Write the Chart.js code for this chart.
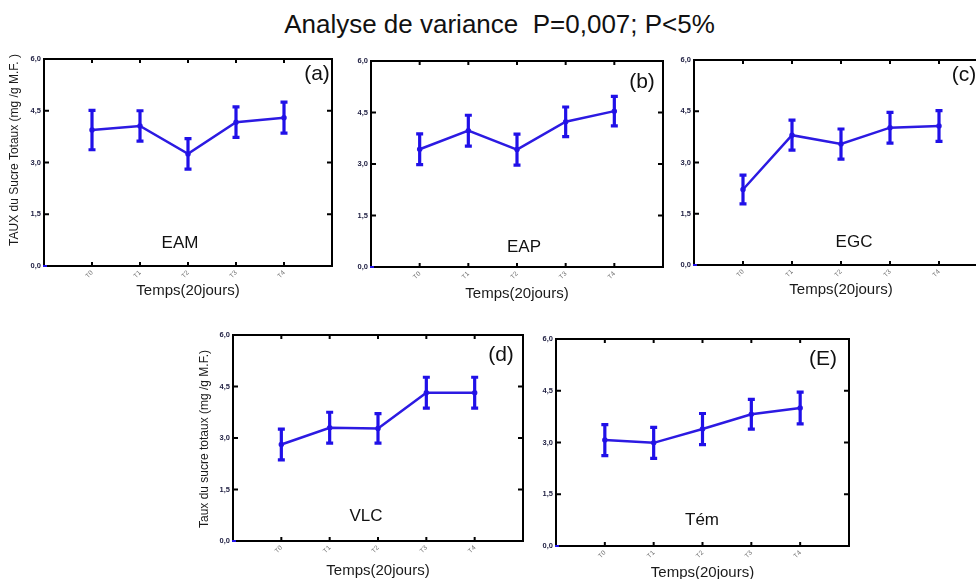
<!DOCTYPE html>
<html>
<head>
<meta charset="utf-8">
<script src="https://cdn.jsdelivr.net/npm/chart.js@4.4.1/dist/chart.umd.min.js"></script>
<style>
  html, body { margin: 0; padding: 0; background: #fff; }
  #page { position: relative; width: 976px; height: 579px; overflow: hidden; background: #fff; }
  #page canvas { position: absolute; }
  #titre {
    position: absolute; left: 0; top: 11px; width: 999px; text-align: center;
    font: 26px/26px "Liberation Sans", Arial, sans-serif; color: #111; white-space: pre;
  }
</style>
</head>
<body>
<div id="page">
  <div id="titre">Analyse de variance  P=0,007; P&lt;5%</div>
</div>
<script>
// --- données ---
const timeLabels = ['T0', 'T1', 'T2', 'T3', 'T4'];
const timeIndex = [0, 1, 2, 3, 4];
const yTicks = [0, 1.5, 3, 4.5, 6];

const eamMean = [3.94, 4.06, 3.25, 4.17, 4.30];
const eamErr  = [0.57, 0.44, 0.44, 0.44, 0.45];

const eapMean = [3.43, 3.97, 3.42, 4.23, 4.54];
const eapErr  = [0.45, 0.45, 0.45, 0.43, 0.43];

const egcMean = [2.21, 3.80, 3.54, 4.02, 4.07];
const egcErr  = [0.42, 0.44, 0.44, 0.45, 0.45];

const vlcMean = [2.81, 3.30, 3.28, 4.32, 4.32];
const vlcErr  = [0.45, 0.45, 0.43, 0.45, 0.45];

const temMean = [3.07, 2.99, 3.39, 3.82, 4.00];
const temErr  = [0.45, 0.45, 0.45, 0.43, 0.46];

const FONT = '"Liberation Sans", Arial, sans-serif';
const LINE_BLUE = '#2c1ae2';
const BAR_BLUE = '#2010e8';
const page = document.getElementById('page');

// cadre, graduations intérieures, barres d'erreur et textes du panneau
const decorPlugin = {
  id: 'decor',
  afterDatasetsDraw(chart, args, o) {
    const { ctx, chartArea: a } = chart;
    const x = chart.scales.x, y = chart.scales.y;
    ctx.save();

    // barres d'erreur
    ctx.strokeStyle = BAR_BLUE;
    ctx.lineWidth = 3.2;
    o.mean.forEach((m, i) => {
      const px = x.getPixelForValue(timeIndex[i]);
      const top = y.getPixelForValue(m + o.err[i]);
      const bot = y.getPixelForValue(m - o.err[i]);
      ctx.beginPath();
      ctx.moveTo(px, top); ctx.lineTo(px, bot);
      ctx.moveTo(px - 3.5, top); ctx.lineTo(px + 3.5, top);
      ctx.moveTo(px - 3.5, bot); ctx.lineTo(px + 3.5, bot);
      ctx.stroke();
    });

    // cadre
    ctx.strokeStyle = '#000';
    ctx.lineWidth = 2;
    ctx.strokeRect(a.left, a.top, a.right - a.left, a.bottom - a.top);
    ctx.beginPath();
    timeIndex.forEach(v => {
      const px = x.getPixelForValue(v);
      ctx.moveTo(px, a.top); ctx.lineTo(px, a.top + 4);
      ctx.moveTo(px, a.bottom); ctx.lineTo(px, a.bottom - 4);
    });
    yTicks.slice(1, -1).forEach(v => {
      const py = y.getPixelForValue(v);
      ctx.moveTo(a.left, py); ctx.lineTo(a.left + 5, py);
      ctx.moveTo(a.right, py); ctx.lineTo(a.right - 5, py);
    });
    ctx.stroke();
    // petit bout bleu au coin 0,0
    ctx.strokeStyle = BAR_BLUE;
    ctx.beginPath();
    ctx.moveTo(a.left - 1, a.bottom); ctx.lineTo(a.left + 3, a.bottom);
    ctx.stroke();

    // textes
    ctx.fillStyle = '#111';
    ctx.textAlign = 'center';
    ctx.textBaseline = 'middle';
    ctx.font = '21px ' + FONT;
    ctx.fillText(o.tag, o.tagX, o.tagY);
    ctx.font = '17px ' + FONT;
    ctx.fillText(o.name, o.nameX, o.nameY);
    if (o.yTitle) {
      ctx.translate(o.yTitleX, o.yTitleY);
      ctx.rotate(-Math.PI / 2);
      ctx.font = '12px ' + FONT;
      ctx.fillStyle = '#1a1a1a';
      ctx.fillText(o.yTitle, 0, 0);
    }
    ctx.restore();
  }
};

function makePanel(p) {
  const [bl, bt, bw, bh] = p.box;
  const [pl, pt, pr, pb] = p.plot;
  const cv = document.createElement('canvas');
  cv.width = bw; cv.height = bh;
  cv.style.left = bl + 'px';
  cv.style.top = bt + 'px';
  page.appendChild(cv);

  const yW = pl - bl;
  const xH = (bt + bh) - pb;
  const titlePadBottom = (bt + bh) - p.xTitleY - 9;

  return new Chart(cv, {
    type: 'line',
    data: {
      datasets: [{
        data: p.mean.map((m, i) => ({ x: timeIndex[i], y: m })),
        borderColor: LINE_BLUE,
        backgroundColor: LINE_BLUE,
        borderWidth: 2.5,
        pointRadius: 1.5,
        tension: 0
      }]
    },
    options: {
      responsive: false,
      animation: false,
      events: [],
      layout: { padding: { left: 0, top: pt - bt, right: (bl + bw) - pr, bottom: 0 } },
      scales: {
        x: {
          type: 'linear', min: -1, max: 5,
          afterBuildTicks: s => { s.ticks = timeIndex.map(v => ({ value: v })); },
          afterFit: s => { s.height = xH; },
          grid: { display: false, drawTicks: false },
          border: { display: false },
          ticks: {
            autoSkip: false, minRotation: 45, maxRotation: 45, padding: 3,
            color: '#6e6e6e', font: { size: 6.5, family: FONT },
            callback: v => timeLabels[v]
          },
          title: {
            display: true, text: 'Temps(20jours)', color: '#1a1a1a',
            font: { size: 15, family: FONT }, padding: { top: 0, bottom: titlePadBottom }
          }
        },
        y: {
          type: 'linear', min: 0, max: 6,
          afterBuildTicks: s => { s.ticks = yTicks.map(v => ({ value: v })); },
          afterFit: s => { s.width = yW; },
          grid: { display: false, drawTicks: false },
          border: { display: false },
          ticks: {
            padding: 3, color: '#1d1d40',
            font: { size: 7.5, weight: 'bold', family: FONT },
            callback: v => v.toFixed(1).replace('.', ',')
          }
        }
      },
      plugins: {
        legend: { display: false },
        tooltip: { enabled: false },
        decor: {
          mean: p.mean, err: p.err,
          tag: p.tag, tagX: p.tagPos[0] - bl, tagY: p.tagPos[1] - bt,
          name: p.name, nameX: p.namePos[0] - bl, nameY: p.namePos[1] - bt,
          yTitle: p.yTitle || null,
          yTitleX: p.yTitle ? p.yTitlePos[0] - bl : 0,
          yTitleY: p.yTitle ? p.yTitlePos[1] - bt : 0
        }
      }
    },
    plugins: [decorPlugin]
  });
}

makePanel({
  box: [0, 40, 340, 265], plot: [44, 59, 332, 266],
  mean: eamMean, err: eamErr,
  tag: '(a)', tagPos: [317, 74], name: 'EAM', namePos: [180, 243], xTitleY: 291,
  yTitle: 'TAUX du Sucre Totaux (mg /g M.F. )', yTitlePos: [15, 150]
});
makePanel({
  box: [340, 40, 330, 265], plot: [371, 61, 663, 267],
  mean: eapMean, err: eapErr,
  tag: '(b)', tagPos: [642, 82], name: 'EAP', namePos: [524, 247], xTitleY: 294
});
makePanel({
  box: [664, 40, 336, 265], plot: [694, 60, 988, 265],
  mean: egcMean, err: egcErr,
  tag: '(c)', tagPos: [964, 75], name: 'EGC', namePos: [854, 242], xTitleY: 290
});
makePanel({
  box: [190, 320, 340, 270], plot: [233, 335, 523, 541],
  mean: vlcMean, err: vlcErr,
  tag: '(d)', tagPos: [501, 355], name: 'VLC', namePos: [366, 516], xTitleY: 571,
  yTitle: 'Taux du sucre totaux (mg /g M.F.)', yTitlePos: [205, 439]
});
makePanel({
  box: [520, 320, 340, 270], plot: [556, 339, 849, 546],
  mean: temMean, err: temErr,
  tag: '(E)', tagPos: [823, 359], name: 'Tém', namePos: [702, 520], xTitleY: 573
});
</script>
</body>
</html>
